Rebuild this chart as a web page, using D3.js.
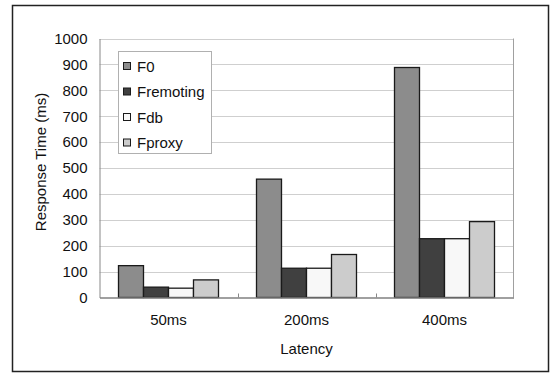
<!DOCTYPE html>
<html><head><meta charset="utf-8">
<script src="https://cdn.jsdelivr.net/npm/d3@7"></script>
<style>
html,body{margin:0;padding:0;background:#fff;}
svg{display:block;}
text{font-family:"Liberation Sans",Arial,sans-serif;fill:#111;}
</style></head>
<body><svg id="c" width="554" height="377"></svg>
<script>
const categories = ["50ms", "200ms", "400ms"];
const seriesNames = ["F0", "Fremoting", "Fdb", "Fproxy"];
const F0 = [123, 457, 888];
const Fremoting = [40, 113, 227];
const Fdb = [36, 113, 227];
const Fproxy = [68, 166, 293];
const yTicks = [0, 100, 200, 300, 400, 500, 600, 700, 800, 900, 1000];
const colors = ["#8c8c8c", "#404040", "#f8f8f8", "#cccccc"];

const seriesValues = [F0, Fremoting, Fdb, Fproxy];
const svg = d3.select("#c");
const L = 99.5, R = 513.5, T = 38.5, B = 297.5;

// outer frame
svg.append("rect").attr("x", 12.5).attr("y", 5.5).attr("width", 536).attr("height", 366)
  .attr("fill", "#fff").attr("stroke", "#222").attr("stroke-width", 1.5);

const x0 = d3.scaleBand().domain(categories).range([L, R]).padding(0);
const x1 = d3.scaleBand().domain(seriesNames).range([0, x0.bandwidth()]).paddingInner(0).paddingOuter(0.76);
const y = d3.scaleLinear().domain([0, 1000]).range([B, T]);

// gridlines
svg.append("g").selectAll("line").data(yTicks.filter(d => d > 0)).join("line")
  .attr("x1", L).attr("x2", R).attr("y1", d => Math.round(y(d)) + 0.5).attr("y2", d => Math.round(y(d)) + 0.5)
  .attr("stroke", "#cfcfcf").attr("stroke-width", 1);
// right border of plot
svg.append("line").attr("x1", R).attr("x2", R).attr("y1", T).attr("y2", B)
  .attr("stroke", "#a0a0a0");

// y axis
const yAxis = d3.axisLeft(y).tickValues(yTicks).tickSize(0).tickPadding(12).tickFormat(d3.format("d"));
const gy = svg.append("g").attr("transform", `translate(${L},0)`).call(yAxis);
gy.select(".domain").attr("stroke", "#888");
gy.selectAll("text").attr("font-size", 15).attr("font-family", "Liberation Sans, Arial, sans-serif").attr("fill", "#111");

// bars
const groups = svg.append("g").selectAll("g").data(categories).join("g")
  .attr("transform", d => `translate(${x0(d)},0)`);
groups.selectAll("rect").data((c, i) => seriesNames.map((s, k) => ({s, v: seriesValues[k][i], k})))
  .join("rect")
  .attr("x", d => x1(d.s)).attr("width", x1.bandwidth())
  .attr("y", d => y(d.v)).attr("height", d => B - y(d.v))
  .attr("fill", d => colors[d.k]).attr("stroke", "#1a1a1a").attr("stroke-width", 1.3);

// x axis
const xAxis = d3.axisBottom(x0).tickSize(0).tickPadding(17);
const gx = svg.append("g").attr("transform", `translate(0,${B})`).call(xAxis);
gx.select(".domain").attr("stroke", "#808080").attr("stroke-width", 1.5);
gx.selectAll("text").attr("font-size", 15).attr("font-family", "Liberation Sans, Arial, sans-serif").attr("fill", "#111");
// inner tick marks at category boundaries
svg.append("g").selectAll("line").data(categories.slice(1)).join("line")
  .attr("x1", d => Math.round(x0(d)) + 0.5).attr("x2", d => Math.round(x0(d)) + 0.5)
  .attr("y1", B).attr("y2", B - 4).attr("stroke", "#888");

// axis titles
svg.append("text").attr("x", (L + R) / 2).attr("y", 354).attr("text-anchor", "middle")
  .attr("font-size", 15).text("Latency");
svg.append("text").attr("transform", `translate(46,162) rotate(-90)`).attr("text-anchor", "middle")
  .attr("font-size", 15).text("Response Time (ms)");

// legend
const lg = svg.append("g");
lg.append("rect").attr("x", 118.5).attr("y", 51.5).attr("width", 93).attr("height", 102)
  .attr("fill", "#fff").attr("stroke", "#b0b0b0");
const rowY = d3.scalePoint().domain(seriesNames).range([66, 142.5]);
const rows = lg.selectAll("g").data(seriesNames).join("g")
  .attr("transform", d => `translate(0,${rowY(d)})`);
rows.append("rect").attr("x", 123.5).attr("y", -3.5).attr("width", 7).attr("height", 7)
  .attr("fill", (d, i) => colors[i]).attr("stroke", "#1a1a1a").attr("stroke-width", 1);
rows.append("text").attr("x", 137).attr("y", 5.5).attr("font-size", 15).text(d => d);
</script></body></html>
